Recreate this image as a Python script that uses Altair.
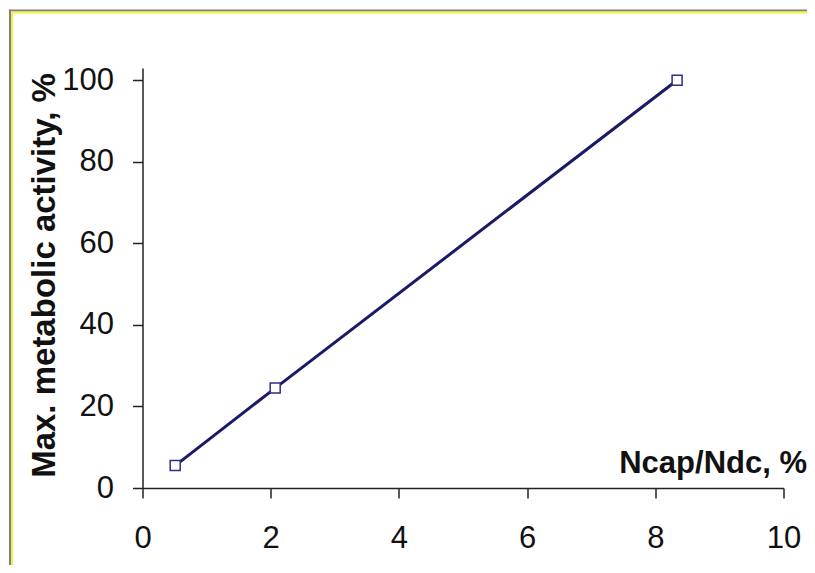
import altair as alt
import pandas as pd

# Data
ratio = [0.51, 2.07, 8.34]          # Ncap/Ndc, %
activity = [5.5, 24.5, 100.0]       # Max. metabolic activity, %
x_ticks = [0, 2, 4, 6, 8, 10]
y_ticks = [0, 20, 40, 60, 80, 100]

df = pd.DataFrame({"ratio": ratio, "activity": activity})

FONT = "Liberation Sans"
NAVY = "#1a1a66"
one = alt.Data(values=[{}])

x_enc = alt.X(
    "ratio:Q",
    scale=alt.Scale(domain=[0, 10], nice=False, zero=False),
    axis=alt.Axis(
        values=x_ticks, format="d", grid=False, tickSize=10, labelPadding=25,
        labelFlush=False, labelOverlap=False,
        labelFontSize=31, labelFont=FONT, labelColor="#111",
        domainColor="#222", tickColor="#222", domainWidth=1.5, tickWidth=1.5,
        title="Ncap/Ndc, %", titleFont=FONT, titleFontSize=31, titleFontWeight="bold",
        titleColor="#111", titleAnchor="end", titleAlign="right",
        titleBaseline="alphabetic", titleX=664, titleY=-16,
    ),
)
y_enc = alt.Y(
    "activity:Q",
    scale=alt.Scale(domain=[0, 103], nice=False, zero=False),
    axis=alt.Axis(
        values=y_ticks, format="d", grid=False, tickSize=10, labelPadding=19,
        labelFlush=False, labelOverlap=False,
        labelFontSize=31, labelFont=FONT, labelColor="#111",
        domainColor="#222", tickColor="#222", domainWidth=1.5, tickWidth=1.5,
        title="Max. metabolic activity, %", titleFont=FONT, titleFontSize=33,
        titleFontWeight="bold", titleColor="#111", titleAngle=-90,
        titleAlign="center", titleBaseline="alphabetic",
        titleX=-88, titleY=207,
    ),
)

base = alt.Chart(df)
line = base.mark_line(color=NAVY, strokeWidth=3).encode(x=x_enc, y=y_enc)
pts = base.mark_point(shape="square", size=100, filled=False, fill="white",
                      fillOpacity=1, stroke="#2e2e8a", strokeWidth=1.5,
                      opacity=1).encode(x="ratio:Q", y="activity:Q")

frame_grey_h = alt.Chart(one).mark_rule(color="#808080", strokeWidth=2).encode(
    x=alt.value(-133), x2=alt.value(700), y=alt.value(-57.5))
frame_grey_v = alt.Chart(one).mark_rule(color="#808080", strokeWidth=2).encode(
    x=alt.value(-132.5), y=alt.value(-58.5), y2=alt.value(520))
frame_yel_h = alt.Chart(one).mark_rule(color="#f2f23a", strokeWidth=2).encode(
    x=alt.value(-131.5), x2=alt.value(700), y=alt.value(-55.5))
frame_yel_v = alt.Chart(one).mark_rule(color="#f2f23a", strokeWidth=2).encode(
    x=alt.value(-130.5), y=alt.value(-56.5), y2=alt.value(520))

chart = alt.layer(
    frame_grey_h, frame_grey_v, frame_yel_h, frame_yel_v, line, pts
).properties(
    width=641, height=420,
    background="white",
    autosize=alt.AutoSizeParams(type="none"),
    padding={"left": 134.5, "top": 60, "right": 23.5, "bottom": 77},
).configure_view(strokeWidth=0, stroke="transparent")

chart.save("out.html", embed_options={"renderer": "svg", "actions": False})
